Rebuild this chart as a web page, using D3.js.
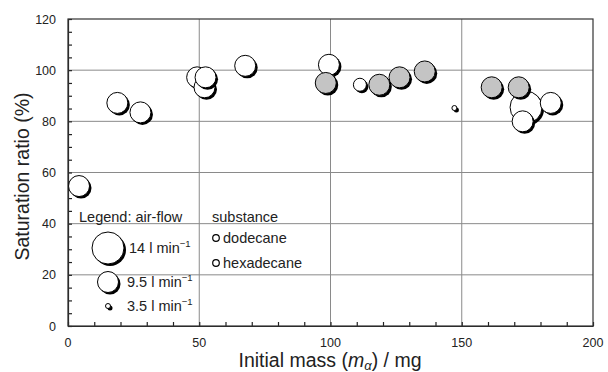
<!DOCTYPE html>
<html>
<head>
<meta charset="utf-8">
<script src="https://cdn.jsdelivr.net/npm/d3@7"></script>
<style>
  body { margin: 0; background: #fff; }
  svg { font-family: "Liberation Sans", Arial, sans-serif; }
</style>
</head>
<body>
<div id="chart"></div>
<script>
// data
const mass   = [4.2, 18.8, 27.6, 49.2, 52.0, 52.4, 67.5, 99.4, 98.2, 111.2, 118.6, 126.3, 135.9, 147.2, 161.4, 171.7, 174.5, 183.9, 173.2];
const ratio  = [54.7, 87.2, 83.5, 97.2, 93.3, 97.2, 101.7, 102.1, 95.0, 94.3, 94.3, 97.2, 99.5, 85.2, 93.3, 93.3, 85.5, 87.2, 80.0];
const flow   = [9.5, 9.5, 9.5, 9.5, 9.5, 9.5, 9.5, 9.5, 9.5, 6.5, 9.5, 9.5, 9.5, 3.5, 9.5, 9.5, 14, 9.5, 9.5];
const substance = ["h", "h", "h", "h", "h", "h", "h", "h", "d", "h", "d", "d", "d", "h", "d", "d", "h", "h", "h"];
const legendFlows = [14, 9.5, 3.5];
const legendFlowLabels = ["14 l min", "9.5 l min", "3.5 l min"];
const substances = ["dodecane", "hexadecane"];
const xTicks = [0, 50, 100, 150, 200];
const yTicks = [0, 20, 40, 60, 80, 100, 120];

const width = 608, height = 372;
const margin = { top: 19, right: 15, bottom: 46, left: 68 };

const svg = d3.select("#chart").append("svg")
    .attr("width", width).attr("height", height);

const x = d3.scaleLinear().domain([0, 200]).range([margin.left, width - margin.right]);
const y = d3.scaleLinear().domain([0, 120]).range([height - margin.bottom, margin.top]);
const r = d3.scaleLinear().domain([3.5, 9.5, 14]).range([2.5, 10.5, 16]);

// grid
svg.append("g").selectAll("line").data([50, 100, 150]).join("line")
    .attr("x1", d => x(d)).attr("x2", d => x(d))
    .attr("y1", y(0)).attr("y2", y(120))
    .attr("stroke", "#8a8a8a").attr("stroke-width", 1);
svg.append("g").selectAll("line").data([20, 40, 60, 80, 100]).join("line")
    .attr("x1", x(0)).attr("x2", x(200))
    .attr("y1", d => y(d)).attr("y2", d => y(d))
    .attr("stroke", "#8a8a8a").attr("stroke-width", 1);

// axes
const xAxis = svg.append("g")
    .attr("transform", `translate(0,${y(0)})`)
    .call(d3.axisBottom(x).tickValues(d3.range(0, 201, 10)).tickSizeInner(-4).tickSizeOuter(0).tickFormat(""));
const yAxis = svg.append("g")
    .attr("transform", `translate(${x(0)},0)`)
    .call(d3.axisLeft(y).tickValues(d3.range(0, 121, 5)).tickSizeInner(-4).tickSizeOuter(0).tickFormat(""));
[xAxis, yAxis].forEach(a => {
    a.selectAll("path, line").attr("stroke", "#222").attr("stroke-width", 1.2);
});

svg.append("g").selectAll("text").data(xTicks).join("text")
    .attr("x", d => x(d)).attr("y", y(0) + 21)
    .attr("text-anchor", "middle").attr("font-size", 12.5).attr("fill", "#222")
    .text(d => d);
svg.append("g").selectAll("text").data(yTicks).join("text")
    .attr("x", x(0) - 12).attr("y", d => y(d) + 4.5)
    .attr("text-anchor", "end").attr("font-size", 12.5).attr("fill", "#222")
    .text(d => d);

// frame
svg.append("rect")
    .attr("x", x(0)).attr("y", y(120))
    .attr("width", x(200) - x(0)).attr("height", y(0) - y(120))
    .attr("fill", "none").attr("stroke", "#333").attr("stroke-width", 1.2);

// axis titles
svg.append("text")
    .attr("transform", `translate(29,${(y(0) + y(120)) / 2 + 4}) rotate(-90)`)
    .attr("text-anchor", "middle").attr("font-size", 19.5).attr("fill", "#222")
    .text("Saturation ratio (%)");
const xt = svg.append("text")
    .attr("x", 330).attr("y", 367)
    .attr("text-anchor", "middle").attr("font-size", 19.5).attr("fill", "#222");
xt.append("tspan").text("Initial mass (");
xt.append("tspan").attr("font-style", "italic").text("m");
xt.append("tspan").attr("font-style", "italic").attr("font-size", 13).attr("dy", 3).text("α");
xt.append("tspan").attr("dy", -3).text(") / mg");

// bubble helper: black shadow offset, then filled disc with outline
function bubble(g, cx, cy, rad, fill) {
    g.append("circle").attr("cx", cx + 2).attr("cy", cy + 2).attr("r", rad).attr("fill", "#000");
    g.append("circle").attr("cx", cx).attr("cy", cy).attr("r", rad)
        .attr("fill", fill).attr("stroke", "#000").attr("stroke-width", 1);
}

const pts = mass.map((m, i) => ({ m, v: ratio[i], f: flow[i], s: substance[i] }))
    .sort((a, b) => b.f - a.f);
const dots = svg.append("g");
pts.forEach(p => bubble(dots, x(p.m), y(p.v), r(p.f), p.s === "d" ? "#c4c4c4" : "#fff"));

// legend
const lg = svg.append("g").attr("font-size", 14.5).attr("fill", "#222");
lg.append("text").attr("x", 79).attr("y", 222).text("Legend: air-flow");
lg.append("text").attr("x", 212).attr("y", 222).text("substance");
const flowY = [248, 282, 306];
legendFlows.forEach((f, i) => {
    bubble(lg, 108, flowY[i], r(f), "#fff");
    const t = lg.append("text").attr("x", i === 0 ? 129 : 127).attr("y", flowY[i] + 5).attr("fill", "#222");
    t.append("tspan").text(legendFlowLabels[i]);
    t.append("tspan").attr("font-size", 9.5).attr("dy", -6).text("−1");
});
substances.forEach((s, i) => {
    const cy = 238 + i * 25;
    lg.append("circle").attr("cx", 216).attr("cy", cy).attr("r", 3.3)
        .attr("fill", "#fff").attr("stroke", "#000").attr("stroke-width", 1.2);
    lg.append("text").attr("x", 223).attr("y", cy + 5).text(s);
});
</script>
</body>
</html>
